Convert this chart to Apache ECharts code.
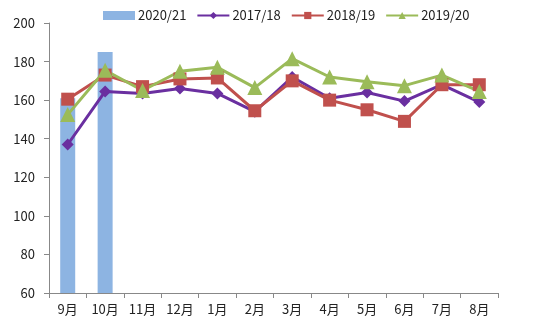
<!DOCTYPE html>
<html><head><meta charset="utf-8">
<script src="https://cdn.jsdelivr.net/npm/echarts@6/dist/echarts.min.js"></script>
<style>html,body{margin:0;padding:0;background:#fff}#c{width:550px;height:326px}</style>
</head><body><div id="c"></div>
<script>
const categories = ['9月','10月','11月','12月','1月','2月','3月','4月','5月','6月','7月','8月'];
const s2020 = [161, 185, null, null, null, null, null, null, null, null, null, null];
const s2017 = [137, 164.5, 163.5, 166, 163.5, 154, 172, 161, 164, 159.5, 168, 159];
const s2018 = [160.5, 173, 167, 171, 171.5, 154.5, 170, 160, 155, 149, 168, 168];
const s2019 = [152.5, 175.5, 165, 175, 177, 166.5, 181.5, 172, 169.5, 167.5, 173, 164.5];
const yTicks = [60, 80, 100, 120, 140, 160, 180, 200];

const font = '"Noto Sans CJK SC", "Liberation Sans", sans-serif';
const chart = echarts.init(document.getElementById('c'));
const lineS = (name, data, color, symbol, size) => ({
  name, type: 'line', data, symbol, symbolSize: size,
  lineStyle: {color, width: 3}, itemStyle: {color}, z: 3
});
chart.setOption({
  animation: false,
  legend: {
    top: 4, left: 98, itemGap: 10, itemWidth: 32, itemHeight: 9,
    textStyle: {fontFamily: font, fontSize: 13, color: '#222', padding: [0, 0, 0, -2]},
    data: [{name: '2020/21', icon: 'rect'}, '2017/18', '2018/19', '2019/20']
  },
  grid: {left: 49, right: 52, top: 23, bottom: 33},
  xAxis: {
    type: 'category', data: categories, boundaryGap: true,
    axisLine: {lineStyle: {color: '#888'}},
    axisTick: {show: true, alignWithLabel: false, lineStyle: {color: '#888'}, length: 5},
    axisLabel: {fontFamily: font, fontSize: 13, color: '#222', margin: 10}
  },
  yAxis: {
    type: 'value', min: 60, max: 200, interval: 20,
    axisLine: {show: true, lineStyle: {color: '#888'}},
    axisTick: {show: true, lineStyle: {color: '#888'}, length: 5},
    splitLine: {show: false},
    axisLabel: {fontFamily: font, fontSize: 13, color: '#222', margin: 14,
      formatter: v => yTicks.includes(v) ? String(v) : ''}
  },
  series: [
    {name: '2020/21', type: 'bar', data: s2020, barWidth: 15, itemStyle: {color: '#8DB4E2'}, z: 1},
    lineS('2017/18', s2017, '#6A2FA0', 'diamond', 12),
    lineS('2018/19', s2018, '#C0504D', 'rect', 13),
    lineS('2019/20', s2019, '#9BBB59', 'triangle', 15)
  ]
});
</script></body></html>
